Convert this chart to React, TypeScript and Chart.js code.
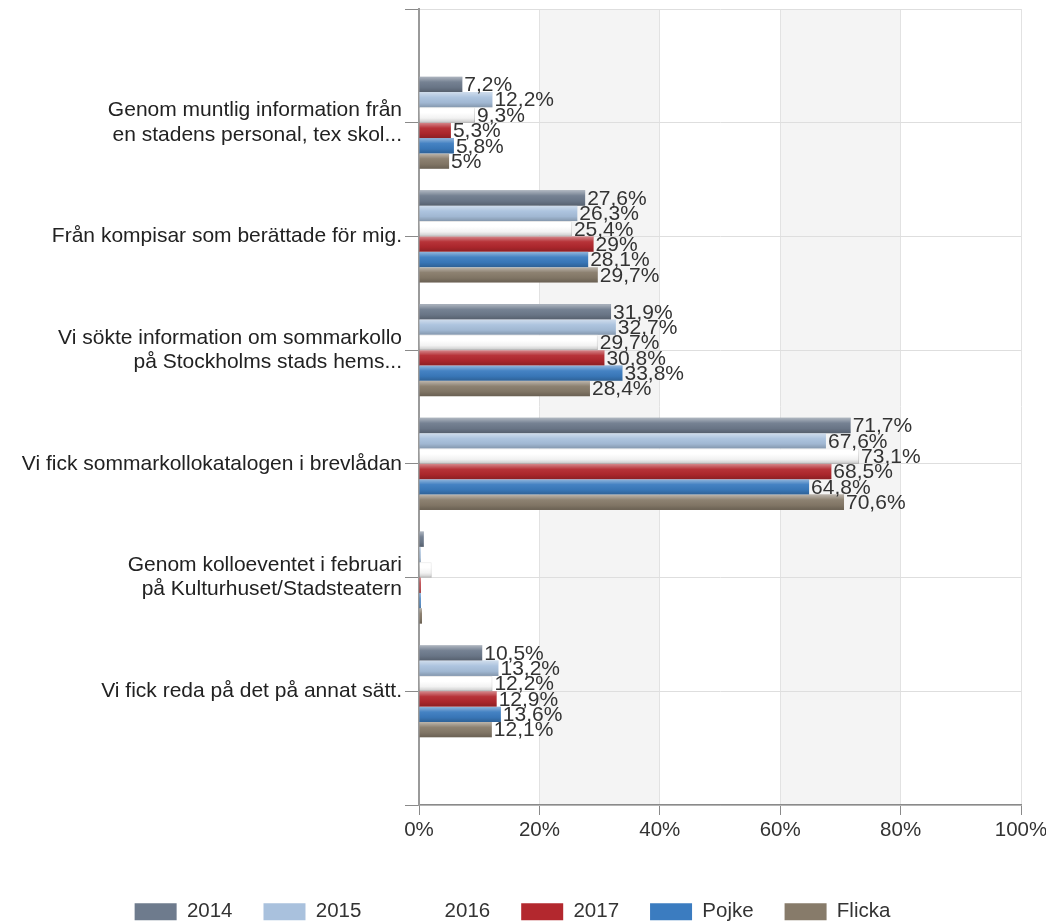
import React, { useEffect, useRef } from 'react';
import { Chart, registerables } from 'chart.js';
Chart.register(...registerables);

const categories: (string | string[])[] = [
  ['Genom muntlig information från', 'en stadens personal, tex skol...'],
  'Från kompisar som berättade för mig.',
  ['Vi sökte information om sommarkollo', 'på Stockholms stads hems...'],
  'Vi fick sommarkollokatalogen i brevlådan',
  ['Genom kolloeventet i februari', 'på Kulturhuset/Stadsteatern'],
  'Vi fick reda på det på annat sätt.',
];
const seriesNames = ['2014', '2015', '2016', '2017', 'Pojke', 'Flicka'];
const v2014 = [7.2, 27.6, 31.9, 71.7, 0.8, 10.5];
const v2015 = [12.2, 26.3, 32.7, 67.6, 0.3, 13.2];
const v2016 = [9.3, 25.4, 29.7, 73.1, 2.1, 12.2];
const v2017 = [5.3, 29, 30.8, 68.5, 0.3, 12.9];
const vPojke = [5.8, 28.1, 33.8, 64.8, 0.3, 13.6];
const vFlicka = [5, 29.7, 28.4, 70.6, 0.5, 12.1];
const xTickValues = [0, 20, 40, 60, 80, 100];
const seriesColors = ['#6e7b8d', '#a9c1dd', '#ffffff', '#b3282e', '#3b7cc0', '#877b6a'];

const FONT = '"Liberation Sans", Arial, sans-serif';

const fmt = (v: number) => String(v).replace('.', ',') + '%';

export default function App() {
  const ref = useRef<HTMLCanvasElement | null>(null);
  useEffect(() => {
    document.documentElement.style.overflow = 'hidden';
    const canvas = ref.current!;
    const series = [v2014, v2015, v2016, v2017, vPojke, vFlicka];
    const labels = ['', ...categories, ''];
    const datasets = series.map((vals, i) => ({
      label: seriesNames[i],
      data: [null, ...vals, null],
      backgroundColor: seriesColors[i],
      borderColor: i === 2 ? '#dcdcdc' : seriesColors[i],
      borderWidth: i === 2 ? 1 : 0,
      categoryPercentage: 0.81,
      barPercentage: 1.0,
    }));

    const bandsPlugin = {
      id: 'bands',
      beforeDraw(chart: any) {
        const { ctx, chartArea, scales } = chart;
        const x = scales.x;
        ctx.save();
        ctx.fillStyle = '#f4f4f4';
        for (let i = 1; i < xTickValues.length; i += 2) {
          const a = x.getPixelForValue(xTickValues[i]);
          const b = x.getPixelForValue(xTickValues[i + 1]);
          ctx.fillRect(a, chartArea.top, b - a, chartArea.bottom - chartArea.top);
        }
        ctx.restore();
      },
    };

    const shadeAndLabels = {
      id: 'shadeAndLabels',
      afterDatasetsDraw(chart: any) {
        const { ctx } = chart;
        ctx.save();
        chart.data.datasets.forEach((ds: any, di: number) => {
          const meta = chart.getDatasetMeta(di);
          meta.data.forEach((el: any, idx: number) => {
            const v = ds.data[idx];
            if (v == null) return;
            const h = el.height;
            const top = el.y - h / 2;
            const left = Math.min(el.base, el.x);
            const w = Math.abs(el.x - el.base);
            const g = ctx.createLinearGradient(0, top, 0, top + h);
            g.addColorStop(0, 'rgba(255,255,255,0.45)');
            g.addColorStop(0.35, 'rgba(255,255,255,0.05)');
            g.addColorStop(0.7, 'rgba(0,0,0,0.05)');
            g.addColorStop(1, 'rgba(0,0,0,0.22)');
            ctx.fillStyle = g;
            ctx.fillRect(left, top, w, h);
          });
        });
        ctx.font = `21px ${FONT}`;
        ctx.fillStyle = '#333333';
        ctx.textBaseline = 'middle';
        ctx.textAlign = 'left';
        chart.data.datasets.forEach((ds: any, di: number) => {
          const meta = chart.getDatasetMeta(di);
          meta.data.forEach((el: any, idx: number) => {
            const v = ds.data[idx];
            if (v == null || v < 3) return;
            ctx.fillText(fmt(v), el.x + 2, el.y + 1);
          });
        });
        ctx.restore();
      },
    };

    const legendShift = {
      id: 'legendShift',
      afterLayout(chart: any) {
        const lg = chart.legend;
        if (!lg) return;
        const dx = -18.5;
        const dy = 9;
        lg.left += dx;
        lg.right += dx;
        lg.top += dy;
        lg.bottom += dy;
      },
    };

    const chart = new Chart(canvas, {
      type: 'bar',
      data: { labels, datasets: datasets as any },
      plugins: [bandsPlugin, shadeAndLabels, legendShift],
      options: {
        indexAxis: 'y',
        animation: false,
        responsive: false,
        layout: { padding: { top: 1, left: 0, right: 0, bottom: 0 } },
        scales: {
          x: {
            min: 0,
            max: 100,
            afterBuildTicks(scale: any) {
              scale.ticks = xTickValues.map((v) => ({ value: v }));
            },
            afterFit(scale: any) {
              scale.height = 56.5;
              scale.paddingRight = 33;
              scale.paddingLeft = 0;
            },
            ticks: {
              callback: (v: any) => `${v}%`,
              color: '#333333',
              font: { family: FONT, size: 20.5 },
              padding: 3,
              maxRotation: 0,
            },
            grid: {
              color: '#e2e2e2',
              tickColor: '#8a8a8a',
              tickLength: 10,
              lineWidth: 1,
            },
            border: { display: true, color: '#8a8a8a', width: 1.5 },
          },
          y: {
            type: 'category',
            offset: false,
            afterFit(scale: any) {
              scale.width = 411;
              scale.paddingTop = 0;
              scale.paddingBottom = 0;
            },
            ticks: {
              color: '#222222',
              font: { family: FONT, size: 21, lineHeight: 1.15 },
              padding: 3,
              autoSkip: false,
            },
            grid: {
              offset: false,
              color: '#dedede',
              tickColor: '#8a8a8a',
              tickLength: 14,
            },
            border: { display: true, color: '#9a9a9a', width: 2 },
          },
        },
        plugins: {
          tooltip: { enabled: false },
          legend: {
            position: 'bottom',
            labels: {
              boxWidth: 42,
              boxHeight: 17,
              padding: 31,
              color: '#333333',
              font: { family: FONT, size: 20.5 },
              generateLabels(ch: any) {
                const items = (Chart.defaults.plugins.legend.labels as any).generateLabels(ch);
                return items.map((it: any) => ({ ...it, lineWidth: 0 }));
              },
            },
          },
        },
      },
    });
    return () => chart.destroy();
  }, []);

  return (
    <div style={{ width: 1046, height: 915 }}>
      <canvas ref={ref} width={1046} height={915} style={{ display: 'block' }} />
    </div>
  );
}
